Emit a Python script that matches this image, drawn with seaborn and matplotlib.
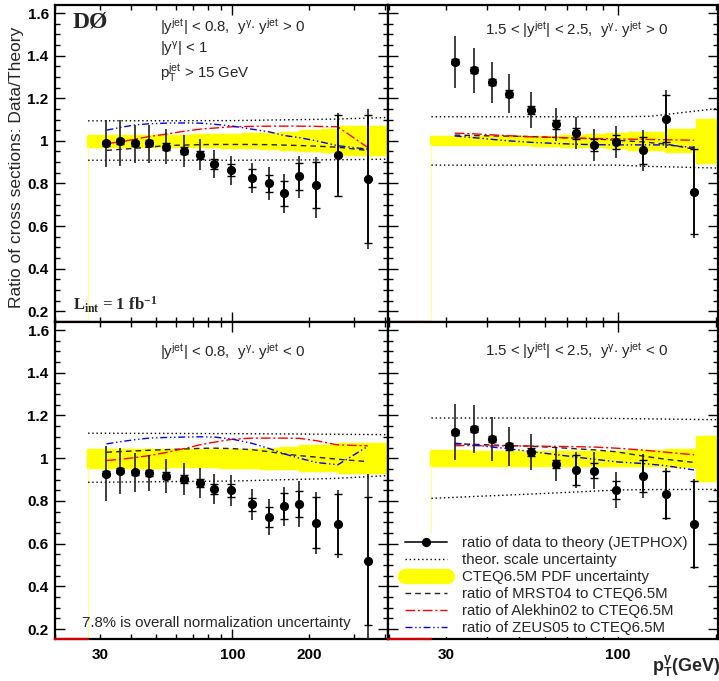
import numpy as np
import pandas as pd
import matplotlib
matplotlib.use("Agg")
import matplotlib.pyplot as plt
import seaborn as sns
from matplotlib.lines import Line2D
from matplotlib.ticker import MultipleLocator

# ---------------- data ----------------
pt_central = [31.9, 36.2, 41.4, 46.9, 54.5, 64.4, 74.8, 84.7, 99.1, 119, 139.7, 160, 183.5, 214, 260, 341]
pt_forward = [31.8, 36.3, 41.3, 46.6, 54.3, 64.6, 74.6, 84.8, 98.9, 119.3, 140, 171]

# |yjet|<0.8, same sign (top-left)
ratio_cs = [0.989, 0.997, 0.989, 0.990, 0.973, 0.953, 0.934, 0.892, 0.861, 0.825, 0.800, 0.753, 0.833, 0.795, 0.933, 0.820]
errhi_cs = [0.110, 0.102, 0.086, 0.083, 0.081, 0.075, 0.077, 0.067, 0.069, 0.069, 0.075, 0.091, 0.097, 0.131, 0.200, 0.329]
errlo_cs = [0.111, 0.114, 0.091, 0.092, 0.083, 0.074, 0.070, 0.067, 0.069, 0.072, 0.078, 0.091, 0.099, 0.155, 0.180, 0.329]
stat_cs = [0.012, 0.012, 0.012, 0.013, 0.015, 0.017, 0.020, 0.024, 0.028, 0.044, 0.040, 0.058, 0.063, 0.108, 0.190, 0.300]
mrst_cs = [0.955, 0.960, 0.965, 0.970, 0.978, 0.980, 0.982, 0.983, 0.983, 0.983, 0.982, 0.980, 0.978, 0.975, 0.970, 0.955]
alek_cs = [0.987, 0.995, 1.008, 1.020, 1.031, 1.045, 1.055, 1.060, 1.066, 1.068, 1.069, 1.069, 1.069, 1.068, 1.066, 0.969]
zeus_cs = [1.050, 1.063, 1.075, 1.080, 1.083, 1.084, 1.083, 1.078, 1.070, 1.055, 1.042, 1.025, 1.015, 1.000, 0.977, 0.961]

# |yjet|<0.8, opposite sign (bottom-left)
ratio_co = [0.928, 0.941, 0.933, 0.931, 0.917, 0.903, 0.884, 0.856, 0.850, 0.784, 0.726, 0.775, 0.786, 0.698, 0.690, 0.520]
errhi_co = [0.130, 0.107, 0.092, 0.086, 0.079, 0.074, 0.072, 0.071, 0.072, 0.074, 0.085, 0.092, 0.109, 0.146, 0.159, 0.406]
errlo_co = [0.130, 0.107, 0.092, 0.086, 0.079, 0.074, 0.072, 0.071, 0.072, 0.074, 0.085, 0.092, 0.109, 0.146, 0.159, 0.410]
stat_co = [0.012, 0.012, 0.013, 0.014, 0.016, 0.018, 0.020, 0.025, 0.030, 0.030, 0.047, 0.061, 0.060, 0.120, 0.140, 0.300]
mrst_co = [1.028, 1.031, 1.034, 1.037, 1.040, 1.043, 1.046, 1.047, 1.045, 1.040, 1.030, 1.020, 1.012, 1.005, 0.995, 0.984]
alek_co = [0.989, 0.995, 1.003, 1.012, 1.026, 1.045, 1.063, 1.075, 1.088, 1.094, 1.094, 1.094, 1.093, 1.082, 1.062, 1.058]
zeus_co = [1.067, 1.077, 1.087, 1.094, 1.097, 1.099, 1.100, 1.099, 1.090, 1.070, 1.045, 1.020, 1.000, 0.980, 0.969, 1.055]

# 1.5<|yjet|<2.5, same sign (top-right)
ratio_fs = [1.371, 1.332, 1.275, 1.221, 1.144, 1.077, 1.036, 0.981, 0.994, 0.955, 1.103, 0.761]
errhi_fs = [0.121, 0.106, 0.096, 0.092, 0.085, 0.076, 0.074, 0.074, 0.076, 0.097, 0.135, 0.215]
errlo_fs = [0.121, 0.106, 0.096, 0.092, 0.085, 0.076, 0.074, 0.074, 0.076, 0.097, 0.135, 0.215]
stat_fs = [0.012, 0.013, 0.014, 0.016, 0.018, 0.020, 0.025, 0.030, 0.034, 0.064, 0.110, 0.200]
mrst_fs = [1.027, 1.025, 1.023, 1.022, 1.020, 1.016, 1.013, 1.009, 1.003, 0.995, 0.985, 0.961]
alek_fs = [1.036, 1.033, 1.028, 1.024, 1.019, 1.016, 1.013, 1.011, 1.009, 1.007, 1.005, 1.003]
zeus_fs = [1.023, 1.015, 1.007, 1.000, 0.993, 0.988, 0.984, 0.982, 0.981, 0.981, 0.981, 0.969]

# 1.5<|yjet|<2.5, opposite sign (bottom-right)
ratio_fo = [1.122, 1.136, 1.089, 1.055, 1.028, 0.973, 0.945, 0.942, 0.851, 0.917, 0.831, 0.692]
errhi_fo = [0.130, 0.114, 0.102, 0.091, 0.084, 0.078, 0.085, 0.085, 0.086, 0.103, 0.121, 0.209]
errlo_fo = [0.130, 0.114, 0.102, 0.091, 0.084, 0.078, 0.085, 0.085, 0.086, 0.103, 0.121, 0.209]
stat_fo = [0.012, 0.013, 0.014, 0.016, 0.018, 0.020, 0.070, 0.036, 0.040, 0.075, 0.110, 0.200]
mrst_fo = [1.067, 1.065, 1.062, 1.059, 1.056, 1.050, 1.044, 1.039, 1.030, 1.010, 0.995, 0.980]
alek_fo = [1.059, 1.059, 1.058, 1.058, 1.057, 1.055, 1.054, 1.052, 1.047, 1.038, 1.028, 1.016]
zeus_fo = [1.070, 1.062, 1.052, 1.044, 1.031, 1.017, 1.005, 0.995, 0.983, 0.975, 0.965, 0.945]

# CTEQ6.5M PDF uncertainty band (half widths per bin)
band_edges_central = [27, 40, 55, 70, 90, 110, 130, 155, 185, 225, 260, 420]
pdf_cs = [0.022, 0.022, 0.024, 0.026, 0.028, 0.030, 0.034, 0.038, 0.045, 0.050, 0.064]
pdf_co = [0.040, 0.039, 0.038, 0.038, 0.039, 0.040, 0.044, 0.048, 0.055, 0.056, 0.067]
band_edges_forward = [27, 35, 45, 55, 67, 80, 93, 108, 140, 174, 205]
pdf_fs = [0.016, 0.016, 0.017, 0.018, 0.022, 0.026, 0.030, 0.037, 0.050, 0.100]
pdf_fo = [0.032, 0.031, 0.030, 0.030, 0.030, 0.030, 0.030, 0.032, 0.036, 0.100]

# theoretical scale uncertainty
scale_pt_central = [27, 100, 250, 420]
scale_up_cs = [1.094, 1.095, 1.102, 1.110]
scale_dn_cs = [0.909, 0.909, 0.911, 0.914]
scale_up_co = [1.117, 1.115, 1.112, 1.110]
scale_dn_co = [0.887, 0.893, 0.905, 0.919]
scale_pt_forward = [27, 60, 100, 125, 205]
scale_up_fs = [1.113, 1.113, 1.113, 1.115, 1.153]
scale_dn_fs = [0.886, 0.886, 0.886, 0.880, 0.872]
scale_up_fo = [1.188, 1.188, 1.186, 1.184, 1.180]
scale_dn_fo = [0.812, 0.835, 0.851, 0.853, 0.854]

ytick_values = [0.2, 0.4, 0.6, 0.8, 1.0, 1.2, 1.4, 1.6]
ytick_labels = ["0.2", "0.4", "0.6", "0.8", "1", "1.2", "1.4", "1.6"]
xtick_major = [100]
xtick_minor = [20, 30, 40, 50, 60, 70, 80, 90, 200, 300, 400]
xlabels_central = {30: "30", 100: "100", 200: "200"}
xlabels_forward = {30: "30", 100: "100"}

legend_labels = ["ratio of data to theory (JETPHOX)", "theor. scale uncertainty",
                 "CTEQ6.5M PDF uncertainty", "ratio of MRST04 to CTEQ6.5M",
                 "ratio of Alekhin02 to CTEQ6.5M", "ratio of ZEUS05 to CTEQ6.5M"]

# ---------------- style ----------------
sns.set_style("ticks")
plt.rcParams["font.family"] = ["Liberation Sans", "DejaVu Sans"]
plt.rcParams["mathtext.fontset"] = "custom"
plt.rcParams["mathtext.rm"] = "Liberation Sans"

W, H = 719, 681
fig = plt.figure(figsize=(W / 100, H / 100), dpi=100)
fig.patch.set_facecolor("white")

YLIM = (0.152, 1.64)
XLIM_C = (20, 410)
XLIM_F = (19.9, 203)

def px_rect(x0, y0, x1, y1):
    return [x0 / W, 1 - y1 / H, (x1 - x0) / W, (y1 - y0) / H]

ax_cs = fig.add_axes(px_rect(55, 4.5, 388, 321.5))
ax_fs = fig.add_axes(px_rect(388, 4.5, 718.5, 321.5))
ax_co = fig.add_axes(px_rect(55, 321.5, 388, 639.3))
ax_fo = fig.add_axes(px_rect(388, 321.5, 718.5, 639.3))

LS_SCALE = (0, (1, 2))
LS_MRST = (0, (4, 3))
LS_ALEK = (0, (7, 2, 1.5, 2))
LS_ZEUS = (0, (5, 2, 1, 2, 1, 2))
YELLOW = "#ffff00"


def draw_panel(ax, pt, ratio, elo, ehi, stat, mrst, alek, zeus,
               edges, hw, spt, sup, sdn, xlim, xlabels, show_x, show_y):
    edges = np.asarray(edges, float)
    hw = np.asarray(hw, float)
    lo = np.append(1 - hw, 1 - hw[-1])
    hi = np.append(1 + hw, 1 + hw[-1])
    ax.fill_between(edges, lo, hi, step="post", color=YELLOW, lw=2.5,
                    edgecolor=YELLOW, zorder=1)
    # histogram outline artefacts (as in the original)
    ax.plot([edges[0], edges[0]], [YLIM[0], lo[0]], color="#ffff90", lw=0.8, zorder=1)
    ax.plot([xlim[0], edges[0]], [YLIM[0], YLIM[0]], color="#d00000", lw=1.6,
            zorder=5, clip_on=False)

    sns.lineplot(x=spt, y=sup, ax=ax, color="black", lw=1.0, linestyle=LS_SCALE,
                 errorbar=None, zorder=2)
    sns.lineplot(x=spt, y=sdn, ax=ax, color="black", lw=1.0, linestyle=LS_SCALE,
                 errorbar=None, zorder=2)
    sns.lineplot(x=pt, y=mrst, ax=ax, color="#222222", lw=1.0, linestyle=LS_MRST,
                 errorbar=None, zorder=3)
    sns.lineplot(x=pt, y=alek, ax=ax, color="red", lw=1.0, linestyle=LS_ALEK,
                 errorbar=None, zorder=3)
    sns.lineplot(x=pt, y=zeus, ax=ax, color="blue", lw=1.0, linestyle=LS_ZEUS,
                 errorbar=None, zorder=3)

    ax.errorbar(pt, ratio, yerr=[elo, ehi], fmt="o", color="black", ms=5.6,
                elinewidth=1.2, ecolor="#202020", capsize=0, zorder=6)
    ax.errorbar(pt, ratio, yerr=stat, fmt="none", ecolor="black",
                elinewidth=1.2, capsize=2.6, capthick=1.0, zorder=6)

    ax.set_xscale("log")
    ax.set_xlabel("")
    ax.set_ylabel("")

    majors = [v for v in xtick_major if xlim[0] <= v <= xlim[1]]
    minors = [v for v in xtick_minor if xlim[0] <= v <= xlim[1]]
    ax.set_xticks(majors)
    ax.set_xticks(minors, minor=True)
    if show_x:
        ax.set_xticklabels([xlabels.get(v, "") for v in majors])
        ax.set_xticklabels([xlabels.get(v, "") for v in minors], minor=True)
    else:
        ax.set_xticklabels([])
        ax.set_xticklabels([], minor=True)

    ax.set_yticks(ytick_values)
    ax.yaxis.set_minor_locator(MultipleLocator(0.05))
    if show_y:
        ax.set_yticklabels(ytick_labels)
    else:
        ax.set_yticklabels([])

    ax.set_xlim(*xlim)
    ax.set_ylim(*YLIM)

    ax.tick_params(which="both", direction="in", top=True, right=True,
                   bottom=True, left=True, width=1.0, colors="black")
    ax.tick_params(which="major", length=7)
    ax.tick_params(which="minor", length=3.5)
    ax.tick_params(axis="x", which="both", pad=6, labelsize=11)
    ax.tick_params(axis="y", which="both", pad=4.5, labelsize=11)
    for lab in ax.get_xticklabels(which="both") + ax.get_yticklabels():
        lab.set_fontweight("bold")
    for s in ax.spines.values():
        s.set_linewidth(1.6)
        s.set_color("black")
        s.set_visible(True)
    ax.set_facecolor("white")


draw_panel(ax_cs, pt_central, ratio_cs, errlo_cs, errhi_cs, stat_cs, mrst_cs, alek_cs, zeus_cs,
           band_edges_central, pdf_cs, scale_pt_central, scale_up_cs, scale_dn_cs,
           XLIM_C, xlabels_central, False, True)
draw_panel(ax_co, pt_central, ratio_co, errlo_co, errhi_co, stat_co, mrst_co, alek_co, zeus_co,
           band_edges_central, pdf_co, scale_pt_central, scale_up_co, scale_dn_co,
           XLIM_C, xlabels_central, True, True)
draw_panel(ax_fs, pt_forward, ratio_fs, errlo_fs, errhi_fs, stat_fs, mrst_fs, alek_fs, zeus_fs,
           band_edges_forward, pdf_fs, scale_pt_forward, scale_up_fs, scale_dn_fs,
           XLIM_F, xlabels_forward, False, False)
draw_panel(ax_fo, pt_forward, ratio_fo, errlo_fo, errhi_fo, stat_fo, mrst_fo, alek_fo, zeus_fo,
           band_edges_forward, pdf_fo, scale_pt_forward, scale_up_fo, scale_dn_fo,
           XLIM_F, xlabels_forward, True, False)

# ---------------- texts ----------------
def ftext(x, y, s, **kw):
    kw.setdefault("ha", "left")
    kw.setdefault("va", "baseline")
    return fig.text(x / W, 1 - y / H, s, **kw)

TS = 10.8
ftext(73, 27, "DØ", fontsize=17, fontweight="bold", family=["Liberation Serif", "DejaVu Serif"])
ftext(160, 31.5, r"|y$\mathregular{^{jet}}$| < 0.8,  y$\mathregular{^{\gamma}}$$\cdot$ y$\mathregular{^{jet}}$ > 0", fontsize=TS)
ftext(160, 53.5, r"|y$\mathregular{^{\gamma}}$| < 1", fontsize=TS)
ftext(160, 79, r"p$\mathregular{_{T}^{jet}}$ > 15 GeV", fontsize=TS)
ftext(73, 310, r"L$\mathregular{_{int}}$ = 1 fb$\mathregular{^{-1}}$", fontsize=12,
      fontweight="bold", family=["Liberation Serif", "DejaVu Serif"])
ftext(485, 35, r"1.5 < |y$\mathregular{^{jet}}$| < 2.5,  y$\mathregular{^{\gamma}}$$\cdot$ y$\mathregular{^{jet}}$ > 0", fontsize=TS)
ftext(160, 356.5, r"|y$\mathregular{^{jet}}$| < 0.8,  y$\mathregular{^{\gamma}}$$\cdot$ y$\mathregular{^{jet}}$ < 0", fontsize=TS)
ftext(485, 356, r"1.5 < |y$\mathregular{^{jet}}$| < 2.5,  y$\mathregular{^{\gamma}}$$\cdot$ y$\mathregular{^{jet}}$ < 0", fontsize=TS)
ftext(81.5, 627, "7.8% is overall normalization uncertainty", fontsize=TS)
ftext(652, 672, r"p$\mathregular{_{T}^{\gamma}}$(GeV)", fontsize=13, fontweight="bold")
fig.text(17 / W, 1 - 167 / H, "Ratio of cross sections: Data/Theory", rotation=90,
         ha="center", va="center", fontsize=12.5)

# ---------------- legend ----------------
handles = [
    Line2D([], [], color="#303030", lw=1.4, marker="o", ms=5.6, mfc="black", mec="black"),
    Line2D([], [], color="black", lw=1.0, linestyle=LS_SCALE),
    Line2D([], [], color=YELLOW, lw=11, solid_capstyle="round"),
    Line2D([], [], color="#222222", lw=1.0, linestyle=LS_MRST),
    Line2D([], [], color="red", lw=1.0, linestyle=LS_ALEK),
    Line2D([], [], color="blue", lw=1.0, linestyle=LS_ZEUS),
]
leg = ax_fo.legend(handles, legend_labels, loc="upper left",
                   bbox_to_anchor=(403 / W, 1 - 533.5 / H), bbox_transform=fig.transFigure,
                   frameon=True, facecolor="white", edgecolor="none", framealpha=1,
                   fancybox=False, borderpad=0.15, borderaxespad=0, handlelength=2.8,
                   handletextpad=1.0, labelspacing=0.2, fontsize=TS)
leg.set_zorder(10)

fig.savefig("out.png", dpi=100, facecolor="white")
